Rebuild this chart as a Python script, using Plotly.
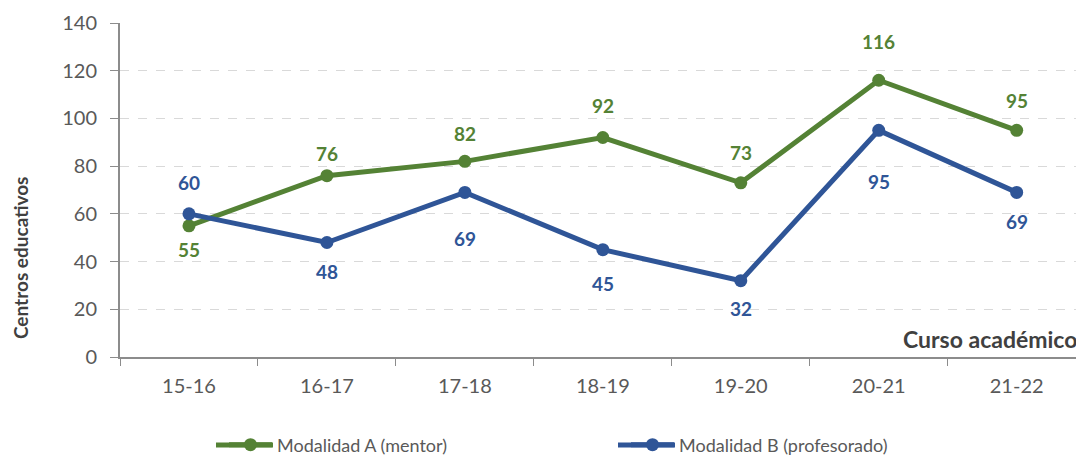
import plotly.graph_objects as go

cursos = ["15-16", "16-17", "17-18", "18-19", "19-20", "20-21", "21-22"]
modalidad_a = [55, 76, 82, 92, 73, 116, 95]
modalidad_b = [60, 48, 69, 45, 32, 95, 69]
# label pixel offsets (positive = above the point)
shift_a = [-24, 22, 28, 32, 30, 39, 30]
shift_b = [31, -29, -46, -34, -28, -51, -29]

GREEN = "#548235"
BLUE = "#2F5597"
FONT = "Lato, 'Noto Sans', sans-serif"

L, T, B, W, H = 120, 23, 99, 1076, 456
PW, PH = W - L, H - T - B


def px(x):
    return (x - L) / PW


def py(y):
    return (H - B - y) / PH


fig = go.Figure()
fig.add_trace(go.Scatter(
    x=cursos, y=modalidad_a, name="Modalidad A (mentor)", mode="lines+markers",
    line=dict(color=GREEN, width=5), marker=dict(color=GREEN, size=13), cliponaxis=False))
fig.add_trace(go.Scatter(
    x=cursos, y=modalidad_b, name="Modalidad B (profesorado)", mode="lines+markers",
    line=dict(color=BLUE, width=5), marker=dict(color=BLUE, size=13), cliponaxis=False))

annotations = []
for xs, ys, shifts, col in ((cursos, modalidad_a, shift_a, GREEN), (cursos, modalidad_b, shift_b, BLUE)):
    for x, y, s in zip(xs, ys, shifts):
        annotations.append(dict(x=x, y=y, text=f"<b>{y}</b>", showarrow=False, yshift=s,
                                font=dict(color=col, size=19, family=FONT),
                                xanchor="center", yanchor="middle"))

annotations += [
    dict(text="<b>Centros educativos</b>", xref="paper", yref="paper",
         x=px(20), y=py(258), textangle=-90, showarrow=False,
         font=dict(size=19, color="#404040"), xanchor="center", yanchor="middle"),
    dict(text="<b>Curso académico</b>", xref="paper", yref="paper",
         x=px(901), y=py(339), showarrow=False,
         font=dict(size=23, color="#404040"), xanchor="left", yanchor="middle"),
]

# longer legend line keys, as in the reference
shapes = [
    dict(type="line", xref="paper", yref="paper", x0=px(216), x1=px(273), y0=py(445), y1=py(445),
         line=dict(color=GREEN, width=5)),
    dict(type="line", xref="paper", yref="paper", x0=px(618), x1=px(675), y0=py(445), y1=py(445),
         line=dict(color=BLUE, width=5)),
]

fig.update_layout(
    width=W, height=H,
    margin=dict(l=L, r=0, t=T, b=B, autoexpand=False),
    paper_bgcolor="white", plot_bgcolor="white",
    font=dict(family=FONT, size=20, color="#595959"),
    showlegend=True,
    legend=dict(orientation="h", x=px(224), xanchor="left", y=py(445), yanchor="middle",
                font=dict(size=18, color="#595959"), entrywidth=344, itemwidth=43,
                itemclick=False, bgcolor="rgba(0,0,0,0)"),
    xaxis=dict(range=[-0.5, 6.43], tickson="boundaries", ticks="outside", ticklen=7,
               tickcolor="#8c8c8c", showline=True, linecolor="#8c8c8c", linewidth=2,
               showgrid=False, zeroline=False, automargin=False, ticklabelstandoff=10),
    yaxis=dict(range=[0, 140], dtick=20, ticks="outside", ticklen=8, tickcolor="#8c8c8c",
               showline=True, linecolor="#8c8c8c", linewidth=2,
               showgrid=True, gridcolor="#d9d9d9", griddash="dash", gridwidth=1,
               zeroline=False, ticklabelstandoff=9, automargin=False),
    annotations=annotations,
    shapes=shapes,
)

fig.write_html("out.html", config={"displayModeBar": False},
               post_script="document.body.style.margin='0';document.body.style.overflow='hidden';")
